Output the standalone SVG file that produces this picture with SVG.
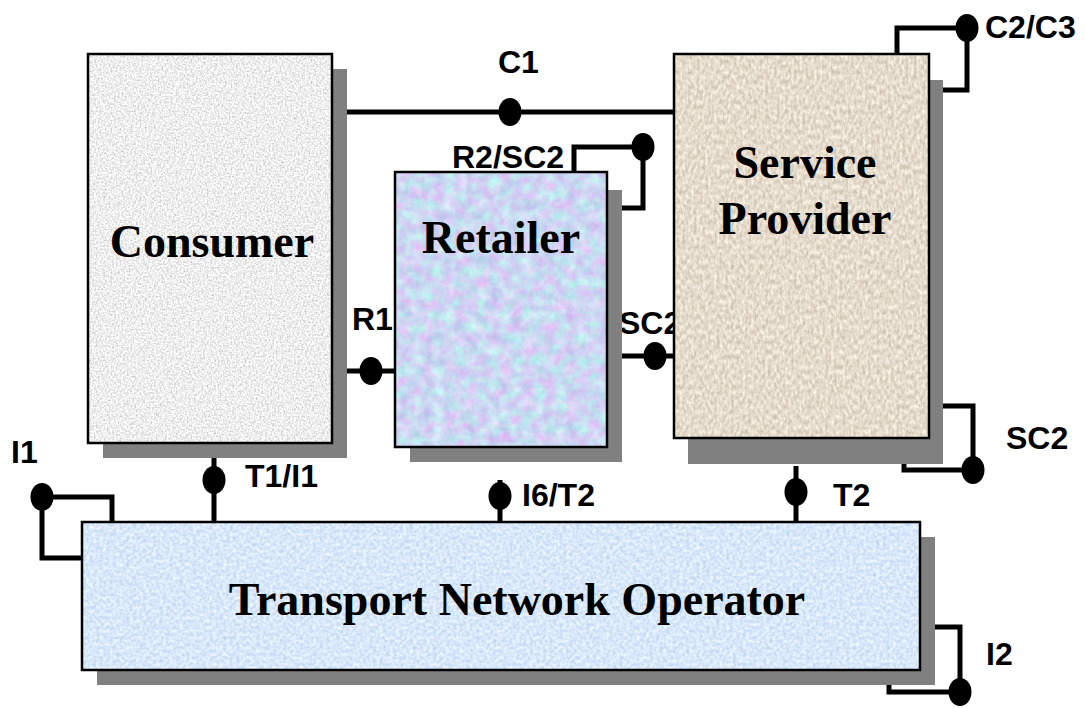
<svg xmlns="http://www.w3.org/2000/svg" width="1085" height="708" viewBox="0 0 1085 708">
<style>
.lbl{font-family:"Liberation Sans",Arial,sans-serif;font-weight:bold;font-size:32px;fill:#000}
.ttl{font-family:"Liberation Serif","Times New Roman",serif;font-weight:bold;font-size:46px;fill:#000;text-anchor:middle}
.shadow{fill:#808080}
.frame{fill:none;stroke:#000;stroke-width:2.5}
.wire{fill:none;stroke:#000;stroke-width:5}
.dot{fill:#000}
</style>
<defs>
<filter id="fGray" x="0" y="0" width="100%" height="100%" color-interpolation-filters="sRGB">
<feTurbulence type="fractalNoise" baseFrequency="0.55" numOctaves="2" seed="3" result="t"/>
<feColorMatrix in="t" type="matrix" values="0.45 0 0 0 0.71  0.45 0 0 0 0.71  0.45 0 0 0 0.71  0 0 0 0 1" result="c"/>
<feComposite in="c" in2="SourceGraphic" operator="in"/>
</filter>
<filter id="fRet" x="0" y="0" width="100%" height="100%" color-interpolation-filters="sRGB">
<feTurbulence type="fractalNoise" baseFrequency="0.09" numOctaves="4" seed="7" result="t"/>
<feColorMatrix in="t" type="matrix" values="0.3 -0.1 0 0 0.7  0 0.35 0 0 0.67  0.1 0 0 0 0.9  0 0 0 0 1" result="c"/>
<feComposite in="c" in2="SourceGraphic" operator="in"/>
</filter>
<filter id="fSP" x="0" y="0" width="100%" height="100%" color-interpolation-filters="sRGB">
<feTurbulence type="fractalNoise" baseFrequency="0.35 0.2" numOctaves="2" seed="11" result="t"/>
<feColorMatrix in="t" type="matrix" values="0.3 0 0 0 0.75  0.32 0 0 0 0.7  0.36 0 0 0 0.62  0 0 0 0 1" result="c"/>
<feComposite in="c" in2="SourceGraphic" operator="in"/>
</filter>
<filter id="fTNO" x="0" y="0" width="100%" height="100%" color-interpolation-filters="sRGB">
<feTurbulence type="fractalNoise" baseFrequency="0.3" numOctaves="3" seed="5" result="t"/>
<feColorMatrix in="t" type="matrix" values="0.3 0 0 0 0.7  0.22 0 0 0 0.8  0.1 0 0 0 0.93  0 0 0 0 1" result="c"/>
<feComposite in="c" in2="SourceGraphic" operator="in"/>
</filter>
</defs>
<rect width="1085" height="708" fill="#fff"/>

<g id="connectors">
<line class="wire" x1="347" y1="112" x2="674" y2="112"/>
<ellipse class="dot" cx="510" cy="112" rx="11.5" ry="14"/>
<line class="wire" x1="347" y1="371" x2="395" y2="371"/>
<ellipse class="dot" cx="371" cy="371" rx="11.5" ry="14"/>
<line class="wire" x1="622" y1="356" x2="674" y2="356"/>
<ellipse class="dot" cx="655" cy="356" rx="11.5" ry="14"/>
<polyline class="wire" points="574,171 574,147 643,147 643,208 622,208"/>
<ellipse class="dot" cx="643" cy="147" rx="11.5" ry="14"/>
<polyline class="wire" points="897,54 897,28 967,28 967,90 943,90"/>
<ellipse class="dot" cx="967" cy="28" rx="11.5" ry="14"/>
<polyline class="wire" points="943,406 973,406 973,470 904,470 904,464"/>
<ellipse class="dot" cx="973" cy="470" rx="11.5" ry="14"/>
<polyline class="wire" points="112,522 112,497 42,497 42,558 82,558"/>
<ellipse class="dot" cx="42" cy="497" rx="11.5" ry="14"/>
<polyline class="wire" points="920,627 960,627 960,692 889,692 889,666"/>
<ellipse class="dot" cx="960" cy="692" rx="11.5" ry="14"/>
<line class="wire" x1="214" y1="458" x2="214" y2="522"/>
<ellipse class="dot" cx="214" cy="480" rx="11.5" ry="14"/>
<line class="wire" x1="500" y1="480" x2="500" y2="530"/>
<ellipse class="dot" cx="500" cy="496" rx="11.5" ry="14"/>
<line class="wire" x1="796" y1="466" x2="796" y2="522"/>
<ellipse class="dot" cx="796" cy="492" rx="11.5" ry="14"/>
</g>

<g id="labels">
<text class="lbl" x="498" y="73">C1</text>
<text class="lbl" x="985" y="38">C2/C3</text>
<text class="lbl" x="452" y="168">R2/SC2</text>
<text class="lbl" x="352" y="330">R1</text>
<text class="lbl" x="619" y="334">SC2</text>
<text class="lbl" x="1006" y="449">SC2</text>
<text class="lbl" x="11" y="463">I1</text>
<text class="lbl" x="245" y="487">T1/I1</text>
<text class="lbl" x="522" y="506">I6/T2</text>
<text class="lbl" x="833" y="506">T2</text>
<text class="lbl" x="986" y="665">I2</text>
</g>

<g id="consumer">
<rect class="shadow" x="103" y="69" width="244" height="389"/>
<rect x="88" y="54" width="244" height="389" filter="url(#fGray)"/>
<rect class="frame" x="88" y="54" width="244" height="389"/>
<text class="ttl" x="212" y="257">Consumer</text>
</g>

<g id="retailer">
<rect class="shadow" x="410" y="190" width="212" height="272"/>
<rect x="395" y="172" width="212" height="275" filter="url(#fRet)"/>
<rect class="frame" x="395" y="172" width="212" height="275"/>
<text class="ttl" x="501" y="253">Retailer</text>
</g>

<g id="service-provider">
<rect class="shadow" x="688" y="80" width="255" height="384"/>
<rect x="674" y="54" width="255" height="384" filter="url(#fSP)"/>
<rect class="frame" x="674" y="54" width="255" height="384"/>
<text class="ttl" x="805" y="178">Service</text>
<text class="ttl" x="805" y="234">Provider</text>
</g>

<g id="transport-network-operator">
<rect class="shadow" x="97" y="537" width="838" height="148"/>
<rect x="82" y="522" width="838" height="148" filter="url(#fTNO)"/>
<rect class="frame" x="82" y="522" width="838" height="148"/>
<text class="ttl" x="517" y="615">Transport Network Operator</text>
</g>
</svg>
